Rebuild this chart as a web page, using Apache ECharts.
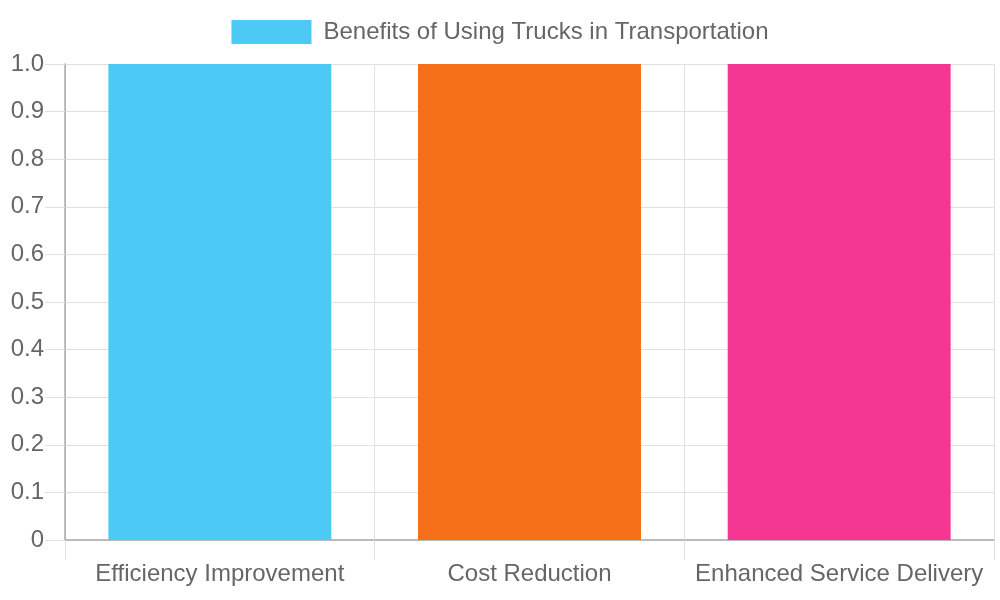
<!DOCTYPE html>
<html>
<head>
<meta charset="utf-8">
<script src="https://cdn.jsdelivr.net/npm/echarts@6/dist/echarts.min.js"></script>
<style>
  html, body { margin: 0; padding: 0; background: #fff; }
  #chart { width: 1000px; height: 600px; }
</style>
</head>
<body>
<div id="chart"></div>
<script>
// data
const categories = ['Efficiency Improvement', 'Cost Reduction', 'Enhanced Service Delivery'];
const values = [1, 1, 1];
const barColors = ['#4dc9f6', '#f67019', '#f53794'];
const seriesName = 'Benefits of Using Trucks in Transportation';

const chart = echarts.init(document.getElementById('chart'));

const option = {
    animation: false,
    textStyle: { fontFamily: 'Liberation Sans, Arial, sans-serif' },
    legend: {
        top: 15,
        left: 'center',
        itemWidth: 80,
        itemHeight: 24,
        icon: 'rect',
        textStyle: { fontSize: 24, color: '#666', padding: [0, 0, 0, 7] },
        data: [seriesName]
    },
    grid: { left: 65, right: 6, top: 64, bottom: 60, containLabel: false },
    xAxis: {
        type: 'category',
        data: categories,
        boundaryGap: true,
        axisLine: { lineStyle: { color: '#aaa', width: 1.5 } },
        axisTick: { show: true, interval: 0, length: 20, lineStyle: { color: '#e0e0e0' } },
        splitLine: { show: true, interval: 0, lineStyle: { color: '#e0e0e0' } },
        axisLabel: { interval: 0, fontSize: 24, color: '#666', margin: 22 }
    },
    yAxis: {
        type: 'value',
        min: 0,
        max: 1,
        interval: 0.1,
        axisLine: { show: true, lineStyle: { color: '#aaa', width: 1.5 } },
        axisTick: { show: true, length: 20, lineStyle: { color: '#e0e0e0' } },
        splitLine: { lineStyle: { color: '#e0e0e0' } },
        axisLabel: {
            fontSize: 24,
            color: '#666',
            margin: 21,
            formatter: v => v === 0 ? '0' : v.toFixed(1)
        }
    },
    series: [{
        name: seriesName,
        type: 'bar',
        barWidth: '72%',
        itemStyle: { color: barColors[0] },
        data: values.map((v, i) => ({ value: v, itemStyle: { color: barColors[i] } }))
    }]
};

chart.setOption(option);
</script>
</body>
</html>
